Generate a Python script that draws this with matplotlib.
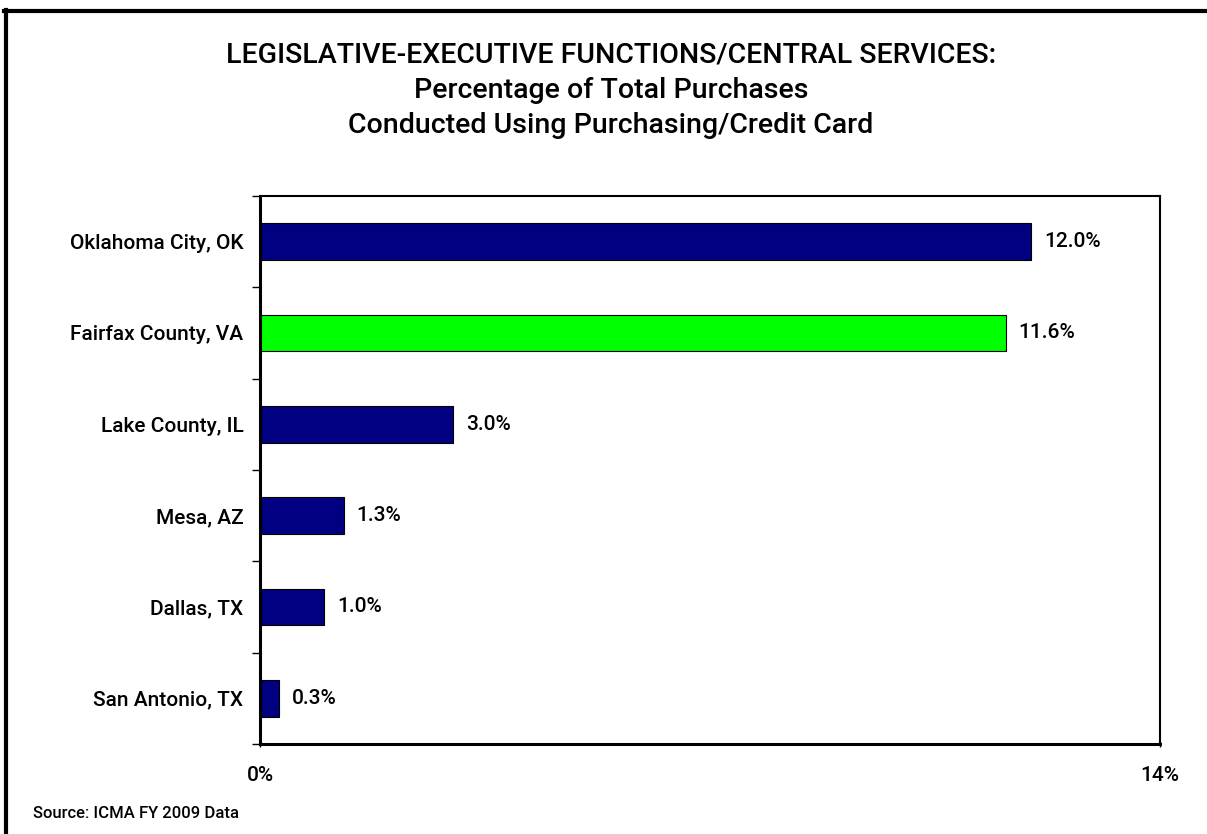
import numpy as np
import matplotlib.pyplot as plt
from matplotlib.lines import Line2D

cities = ["Oklahoma City, OK", "Fairfax County, VA", "Lake County, IL",
          "Mesa, AZ", "Dallas, TX", "San Antonio, TX"]
pct = [12.0, 11.6, 3.0, 1.3, 1.0, 0.3]
highlight = "Fairfax County, VA"
xticks = [0, 14]
xticklabels = ["0%", "14%"]
title_lines = ["LEGISLATIVE-EXECUTIVE FUNCTIONS/CENTRAL SERVICES:",
               "Percentage of Total Purchases",
               "Conducted Using Purchasing/Credit Card"]

plt.rcParams['font.family'] = ['Roboto', 'DejaVu Sans']
plt.rcParams['font.weight'] = 'medium'

W, H = 1207, 834
fig = plt.figure(figsize=(W / 100, H / 100), dpi=100)
ax = fig.add_axes([260 / W, 1 - 744 / H, 900 / W, 548 / H])

y = np.arange(len(cities))[::-1]
colors = ["#00FF00" if c == highlight else "#000080" for c in cities]
ax.barh(y, pct, height=0.4, color=colors, edgecolor="black", linewidth=0.8)

for yi, v in zip(y, pct):
    ax.text(v + 0.2, yi, f"{v:.1f}%", va="center", ha="left", fontsize=15)

ax.set_xlim(0, 14)
ax.set_ylim(-0.5, len(cities) - 0.5)
ax.set_xticks(xticks)
ax.set_xticklabels(xticklabels, fontsize=15)
ax.set_yticks(y)
ax.set_yticklabels(cities, fontsize=15)
ax.tick_params(axis="y", length=0, pad=12)
ax.set_yticks(np.arange(-0.5, len(cities), 1), minor=True)
ax.tick_params(axis="y", which="minor", length=6, width=1)
ax.tick_params(axis="x", length=5, width=1, direction="inout", pad=13)
for side in ["left", "bottom"]:
    ax.spines[side].set_linewidth(2.2)
for side in ["top", "right"]:
    ax.spines[side].set_linewidth(1.5)

for line, base in zip(title_lines, [62, 98, 133]):
    fig.text(611 / W, 1 - base / H, line, ha="center", va="baseline", fontsize=20.5)
fig.text(33 / W, 1 - 813 / H, "Source: ICMA FY 2009 Data", fontsize=12, ha="left", va="center")

# frame around the chart (top and left edges visible)
fig.add_artist(Line2D([4 / W, 1.0], [1 - 11 / H, 1 - 11 / H], color="black", lw=3,
                      transform=fig.transFigure))
fig.add_artist(Line2D([5.5 / W, 5.5 / W], [0, 1 - 9.5 / H], color="black", lw=3,
                      transform=fig.transFigure))

fig.savefig("out.png", dpi=100)
